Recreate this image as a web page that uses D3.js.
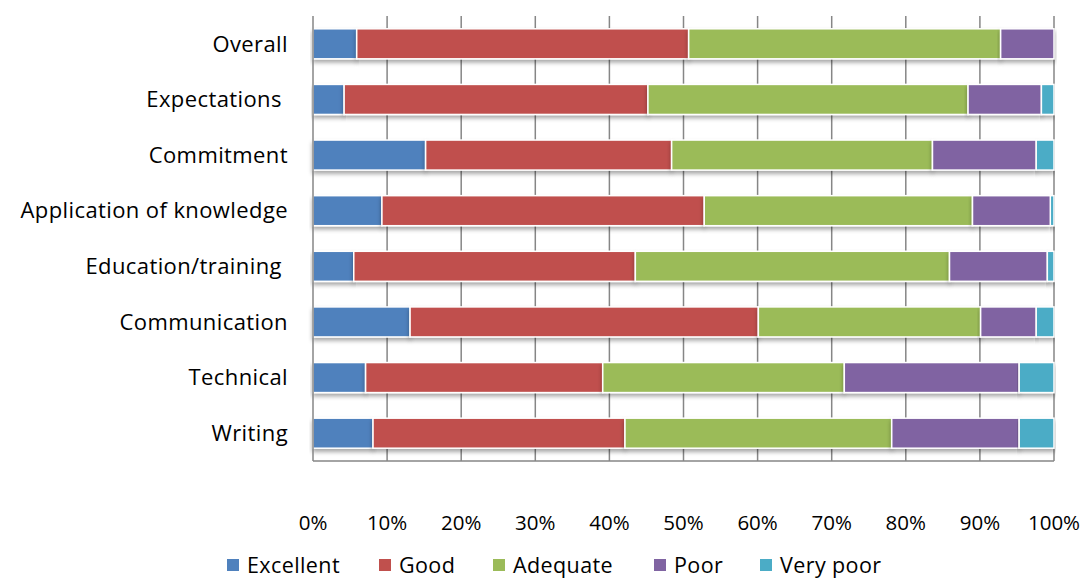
<!DOCTYPE html>
<html>
<head>
<meta charset="utf-8">
<script src="https://cdn.jsdelivr.net/npm/d3@7"></script>
<style>
  body { margin: 0; background: #fff; }
  text { font-family: "Open Sans", sans-serif; fill: #000; }
</style>
</head>
<body>
<div id="chart"></div>
<script>
// categories from top to bottom
var categories = ["Overall", "Expectations ", "Commitment", "Application of knowledge",
                  "Education/training ", "Communication", "Technical", "Writing"];
var seriesNames = ["Excellent", "Good", "Adequate", "Poor", "Very poor"];
var colors = ["#4F81BD", "#C0504D", "#9BBB59", "#8064A2", "#4BACC6"];

// percentages per category (same order as categories)
var excellent = [5.9, 4.2, 15.2, 9.3, 5.5, 13.1, 7.1, 8.1];
var good      = [44.8, 41.0, 33.2, 43.5, 38.0, 47.0, 32.0, 34.0];
var adequate  = [42.1, 43.2, 35.2, 36.2, 42.4, 30.0, 32.6, 36.0];
var poor      = [7.2, 9.9, 14.0, 10.5, 13.2, 7.5, 23.6, 17.2];
var veryPoor  = [0.0, 1.7, 2.4, 0.5, 0.9, 2.4, 4.7, 4.7];

var tickValues = [0, 10, 20, 30, 40, 50, 60, 70, 80, 90, 100];

var width = 1085, height = 580,
    marginLeft = 313, marginRight = 31,
    marginTop = 16, marginBottom = 119,
    chartWidth = width - marginLeft - marginRight,
    chartHeight = height - marginTop - marginBottom;

var rows = categories.map(function(c, i) {
    return { cat: c, Excellent: excellent[i], Good: good[i], Adequate: adequate[i],
             Poor: poor[i], "Very poor": veryPoor[i] };
});
var stacked = d3.stack().keys(seriesNames)(rows);

var xScale = d3.scaleLinear().domain([0, 100]).range([0, chartWidth]);
var yScale = d3.scaleBand().domain(categories).range([0, chartHeight])
    .paddingInner(0.46).paddingOuter(0.23);

var svg = d3.select('#chart').append('svg')
    .attr('width', width)
    .attr('height', height);

var defs = svg.append('defs');
var shadow = defs.append('filter').attr('id', 'shadow')
    .attr('x', '-5%').attr('y', '-20%').attr('width', '110%').attr('height', '160%');
shadow.append('feDropShadow')
    .attr('dx', 0).attr('dy', 3).attr('stdDeviation', 2)
    .attr('flood-color', '#000').attr('flood-opacity', 0.35);

var chartArea = svg.append('g')
    .attr('transform', 'translate(' + marginLeft + ',' + marginTop + ')');

// gridlines
chartArea.append('g')
    .selectAll('line').data(tickValues.slice(1)).enter()
    .append('line')
      .attr('x1', function(d) { return xScale(d); })
      .attr('x2', function(d) { return xScale(d); })
      .attr('y1', 0)
      .attr('y2', chartHeight)
      .style('stroke', '#868686')
      .style('stroke-width', 1.5);

// bars
chartArea.append('g')
    .selectAll('g').data(stacked).enter()
    .append('g')
      .style('fill', function(d, i) { return colors[i]; })
    .selectAll('rect').data(function(d) { return d; }).enter()
    .append('rect')
      .filter(function(d) { return d[1] - d[0] > 0; })
      .attr('x', function(d) { return xScale(d[0]); })
      .attr('width', function(d) { return xScale(d[1]) - xScale(d[0]); })
      .attr('y', function(d) { return yScale(d.data.cat); })
      .attr('height', yScale.bandwidth())
      .style('stroke', '#fff')
      .style('stroke-width', 1.5)
      .attr('filter', 'url(#shadow)');

// axis lines
chartArea.append('line')
    .attr('x1', 0).attr('x2', 0).attr('y1', 0).attr('y2', chartHeight)
    .style('stroke', '#868686').style('stroke-width', 1.5);
chartArea.append('line')
    .attr('x1', 0).attr('x2', chartWidth).attr('y1', chartHeight).attr('y2', chartHeight)
    .style('stroke', '#868686').style('stroke-width', 1.5);

// category labels
chartArea.append('g')
    .selectAll('text').data(categories).enter()
    .append('text')
      .attr('x', -25)
      .attr('y', function(d) { return yScale(d) + yScale.bandwidth() / 2; })
      .attr('dy', '0.35em')
      .attr('text-anchor', 'end')
      .attr('xml:space', 'preserve')
      .style('white-space', 'pre')
      .style('font-size', '22px')
      .style('letter-spacing', '0.4px')
      .text(function(d) { return d; });

// x tick labels
chartArea.append('g')
    .selectAll('text').data(tickValues).enter()
    .append('text')
      .attr('x', function(d) { return xScale(d); })
      .attr('y', chartHeight + 62)
      .attr('dy', '0.35em')
      .attr('text-anchor', 'middle')
      .style('font-size', '20.5px')
      .text(function(d) { return d + '%'; });

// legend
var legendX = [227, 379, 493, 654, 760];
var legend = svg.append('g').selectAll('g').data(seriesNames).enter()
    .append('g')
      .attr('transform', function(d, i) { return 'translate(' + legendX[i] + ',559)'; });
legend.append('rect')
    .attr('width', 12).attr('height', 12)
    .style('fill', function(d, i) { return colors[i]; });
legend.append('text')
    .attr('x', 20)
    .attr('y', 6)
    .attr('dy', '0.35em')
    .style('font-size', '21.5px')
    .style('letter-spacing', '0.4px')
    .text(function(d) { return d; });
</script>
</body>
</html>
